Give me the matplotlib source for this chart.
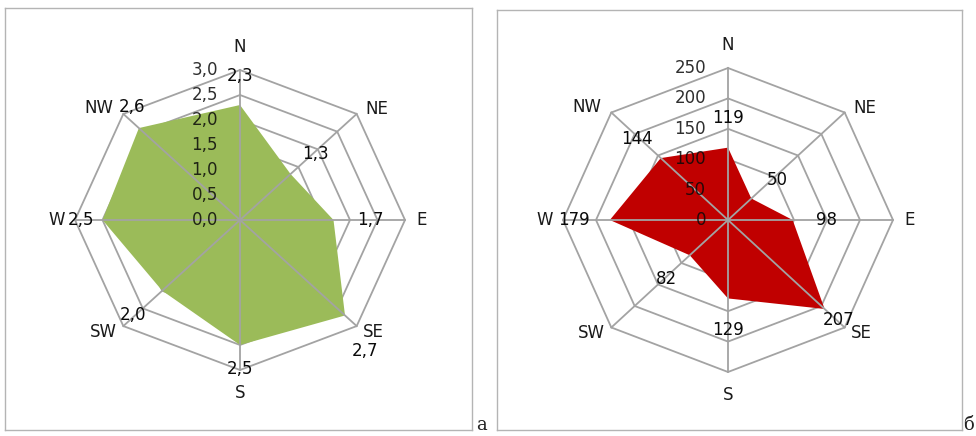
import numpy as np
import matplotlib
matplotlib.use("Agg")
import matplotlib.pyplot as plt

# --- data -------------------------------------------------------------
directions = ["N", "NE", "E", "SE", "S", "SW", "W", "NW"]

speed = [2.3, 1.3, 1.7, 2.7, 2.5, 2.0, 2.5, 2.6]          # panel a
speed_ticks = [0.0, 0.5, 1.0, 1.5, 2.0, 2.5, 3.0]

freq = [119, 50, 98, 207, 129, 82, 179, 144]             # panel б
freq_ticks = [0, 50, 100, 150, 200, 250]

panel_letters = ["a", "б"]

# --- styling ----------------------------------------------------------
W, H = 976, 436
FONT = "DejaVu Sans"
FS = 12
GRID = "#a3a3a3"
FRAME = "#b4b4b4"

# label offsets in pixels (dx, dy with y pointing down)
dir_offsets = [(0, -23), (20, -5), (17, 0), (17, 6), (0, 23), (-20, 6), (-18, 0), (-24, -6)]
speed_lab_off = [(0, -29), (25, -20), (37, 0), (20, 36), (0, 24), (-29, 24), (-21, 0), (-7, -21)]
freq_lab_off = [(0, -30), (26, -19), (34, 0), (14, 11), (0, 32), (-23, 24), (-36, 0), (-24, -19)]


def comma(v, dec):
    return f"{v:.{dec}f}".replace(".", ",")


def radar(fig, box, center, ppu, values, ticks, color, lab_off, tick_dec, val_dec):
    x0, y0, x1, y1 = box
    cx, cy = center
    sx, sy = ppu
    ax = fig.add_axes([x0 / W, (H - y1) / H, (x1 - x0) / W, (y1 - y0) / H])
    ax.set_xlim((x0 - cx) / sx, (x1 - cx) / sx)
    ax.set_ylim((cy - y1) / sy, (cy - y0) / sy)
    ax.set_xticks([])
    ax.set_yticks([])
    for s in ax.spines.values():
        s.set_color(FRAME)
        s.set_linewidth(1.0)

    theta = np.deg2rad(np.arange(len(directions)) * 45.0)
    sin, cos = np.sin(theta), np.cos(theta)
    rmax = ticks[-1]

    # rings
    for t in ticks[1:]:
        xs = np.append(t * sin, t * sin[0])
        ys = np.append(t * cos, t * cos[0])
        ax.plot(xs, ys, color=GRID, lw=1.3, zorder=1, solid_joinstyle="miter")

    # data polygon
    v = np.asarray(values, dtype=float)
    ax.fill(v * sin, v * cos, color=color, lw=0, zorder=2)

    # spokes
    for s_, c_ in zip(sin, cos):
        ax.plot([0, rmax * s_], [0, rmax * c_], color=GRID, lw=1.3, zorder=3)

    # radial tick labels along the N spoke
    for t in ticks:
        ax.annotate(comma(t, tick_dec), (0, t), xytext=(-22, 0),
                    textcoords="offset pixels", ha="right", va="center",
                    fontsize=FS, family=FONT, color="#0a0a0a", alpha=0.85, zorder=5)

    # direction labels
    for name, s_, c_, (dx, dy) in zip(directions, sin, cos, dir_offsets):
        ax.annotate(name, (rmax * s_, rmax * c_), xytext=(dx, -dy),
                    textcoords="offset pixels", ha="center", va="center",
                    fontsize=FS, family=FONT, color="#1a1a1a", zorder=5,
                    annotation_clip=False)

    # value labels
    for val, s_, c_, (dx, dy) in zip(v, sin, cos, lab_off):
        ax.annotate(comma(val, val_dec), (val * s_, val * c_), xytext=(dx, -dy),
                    textcoords="offset pixels", ha="center", va="center",
                    fontsize=FS, family=FONT, color="#0a0a0a", zorder=6)
    return ax


fig = plt.figure(figsize=(W / 100, H / 100), dpi=100)

radar(fig, (5, 8, 472, 430), (240, 220), (165 / 3.0, 150 / 3.0),
      speed, speed_ticks, "#9bbb59", speed_lab_off, 1, 1)
radar(fig, (497, 10, 962, 430), (728, 220), (165 / 250.0, 152 / 250.0),
      freq, freq_ticks, "#c00000", freq_lab_off, 0, 0)

fig.text(476 / W, 1 - 434 / H, panel_letters[0], family="DejaVu Serif",
         fontsize=13, ha="left", va="bottom", color="#222222")
fig.text(974 / W, 1 - 434 / H, panel_letters[1], family="DejaVu Serif",
         fontsize=13, ha="right", va="bottom", color="#222222")

fig.savefig("out.png", dpi=100)
